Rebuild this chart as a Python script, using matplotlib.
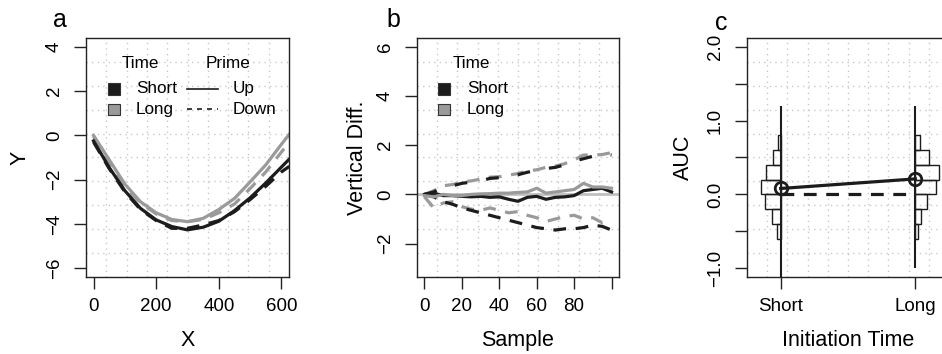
import matplotlib
matplotlib.use("Agg")
import matplotlib.pyplot as plt
from matplotlib.patches import Rectangle
from matplotlib.lines import Line2D
import numpy as np

plt.rcParams['font.family'] = ['Liberation Sans', 'DejaVu Sans']

# ---------------- data ----------------
# Panel a: mean trajectories
traj_x = [0, 50, 100, 150, 200, 250, 300, 350, 400, 450, 500, 550, 600, 625]
short_up = [-0.25, -1.45, -2.5, -3.3, -3.82, -4.12, -4.27, -4.15, -3.88, -3.4, -2.82, -2.15, -1.43, -1.07]
short_down = [-0.3, -1.5, -2.55, -3.35, -3.85, -4.2, -4.2, -4.05, -3.85, -3.45, -2.9, -2.3, -1.65, -1.4]
long_up = [0.0, -1.1, -2.2, -3.0, -3.5, -3.8, -3.9, -3.75, -3.35, -2.85, -2.1, -1.33, -0.4, 0.05]
long_down = [-0.05, -1.2, -2.3, -3.05, -3.55, -3.85, -3.9, -3.8, -3.5, -3.1, -2.4, -1.65, -0.75, -0.3]

# Panel b: vertical differences by sample
sample = [0, 5, 10, 15, 20, 25, 30, 35, 40, 45, 50, 55, 60, 65, 70, 75, 80, 85, 90, 95, 100]
short_mid = [0.0, 0.05, -0.05, -0.05, -0.08, -0.1, -0.08, -0.12, -0.1, -0.2, -0.28, -0.12, -0.08, -0.2, -0.12, -0.1, -0.05, 0.15, 0.2, 0.25, 0.1]
long_mid = [-0.05, -0.1, 0.0, -0.05, -0.05, 0.0, 0.02, 0.03, 0.05, 0.05, 0.08, 0.1, 0.25, 0.05, 0.1, 0.15, 0.2, 0.45, 0.3, 0.3, 0.25]
short_upper = [0.0, 0.1, 0.3, 0.35, 0.45, 0.5, 0.55, 0.65, 0.68, 0.75, 0.8, 0.9, 0.98, 1.05, 1.1, 1.2, 1.35, 1.45, 1.55, 1.65, 1.6]
long_upper = [0.0, 0.15, 0.35, 0.4, 0.5, 0.55, 0.62, 0.7, 0.72, 0.78, 0.85, 0.95, 1.0, 1.1, 1.15, 1.25, 1.4, 1.6, 1.6, 1.62, 1.7]
short_lower = [0.0, -0.1, -0.3, -0.4, -0.55, -0.65, -0.75, -0.85, -0.95, -1.05, -1.15, -1.25, -1.35, -1.4, -1.45, -1.4, -1.4, -1.35, -1.25, -1.3, -1.45]
long_lower = [-0.1, -0.55, -0.35, -0.3, -0.5, -0.6, -0.65, -0.55, -0.65, -0.75, -0.7, -0.85, -0.95, -1.1, -1.0, -0.9, -0.85, -1.0, -0.95, -1.15, -1.1]

# Panel c: AUC
groups = ["Short", "Long"]
auc_means = [0.08, 0.21]
auc_min = [-1.2, -1.0]
auc_max = [1.2, 1.2]
hist_edges = [-0.6, -0.4, -0.2, 0.0, 0.2, 0.4, 0.6, 0.8]
short_hist = [0.026, 0.067, 0.119, 0.148, 0.109, 0.056, 0.020]
long_hist = [0.019, 0.041, 0.085, 0.156, 0.178, 0.104, 0.037]

# ---------------- style ----------------
BLACK = '#1c1c1c'
GRAY = '#9a9a9a'
GRID = '#c8c8c8'
TICK_FS = 13.5
LAB_FS = 15.5
LEG_FS = 12.3
LW = 2.3

W, H = 942, 354
fig = plt.figure(figsize=(W / 100, H / 100), dpi=100)


def box(px_left, px_right, px_top=38, px_bottom=277):
    return [px_left / W, 1 - px_bottom / H, (px_right - px_left) / W, (px_bottom - px_top) / H]


def style_axes(ax):
    for s in ax.spines.values():
        s.set_linewidth(1.0)
        s.set_color('#222222')
    ax.tick_params(direction='out', length=8.6, width=1.0, labelsize=TICK_FS,
                   color='#222222')
    ax.tick_params(axis='x', pad=6.5)
    ax.tick_params(axis='y', labelrotation=90, pad=8)
    for lab in ax.get_yticklabels():
        lab.set_va('center')


def r_grid(ax):
    x0, x1 = ax.get_xlim()
    y0, y1 = ax.get_ylim()
    for i in range(1, 10):
        ax.axvline(x0 + i * (x1 - x0) / 10, color=GRID, lw=1, ls=(0, (1, 3)), zorder=0)
        ax.axhline(y0 + i * (y1 - y0) / 10, color=GRID, lw=1, ls=(0, (1, 3)), zorder=0)


# ---------------- panel a ----------------
axa = fig.add_axes(box(86, 289))
axa.set_xlim(-24, 624)
axa.set_ylim(-6.4, 4.4)
r_grid(axa)
axa.plot(traj_x, long_down, color=GRAY, lw=LW, ls=(0, (4, 3)))
axa.plot(traj_x, long_up, color=GRAY, lw=LW)
axa.plot(traj_x, short_down, color=BLACK, lw=LW, ls=(0, (4, 3)))
axa.plot(traj_x, short_up, color=BLACK, lw=LW)
axa.set_xticks([0, 200, 400, 600])
axa.set_yticks([-6, -4, -2, 0, 2, 4])
style_axes(axa)
axa.set_xlabel("X", fontsize=LAB_FS, va='center')
axa.set_ylabel("Y", fontsize=LAB_FS, va='center')
axa.xaxis.set_label_coords(0.5, -0.264)
axa.yaxis.set_label_coords(-0.325, 0.5)

# legend a
axa.text(0.266, 0.895, "Time", transform=axa.transAxes, ha='center', va='center', fontsize=LEG_FS)
axa.text(0.700, 0.895, "Prime", transform=axa.transAxes, ha='center', va='center', fontsize=LEG_FS)
for yy, col, lab in [(0.787, BLACK, "Short"), (0.701, GRAY, "Long")]:
    axa.add_patch(Rectangle((0.138 - 0.029, yy - 0.024), 0.058, 0.048, transform=axa.transAxes,
                            facecolor=col, edgecolor='#333333', lw=0.8))
    axa.text(0.246, yy, lab, transform=axa.transAxes, ha='left', va='center', fontsize=LEG_FS)
for yy, ls, lab in [(0.787, '-', "Up"), (0.701, (0, (3, 3)), "Down")]:
    axa.add_line(Line2D([0.496, 0.652], [yy, yy], transform=axa.transAxes, color=BLACK, lw=1.2, ls=ls))
    axa.text(0.724, yy, lab, transform=axa.transAxes, ha='left', va='center', fontsize=LEG_FS)

# ---------------- panel b ----------------
axb = fig.add_axes(box(417, 619))
axb.set_xlim(-4, 104)
axb.set_ylim(-3.36, 6.36)
r_grid(axb)
axb.axhline(0, color='#c0c0c0', lw=2, zorder=1)
axb.plot(sample, long_upper, color=GRAY, lw=LW, ls=(0, (4, 3)))
axb.plot(sample, long_lower, color=GRAY, lw=LW, ls=(0, (4, 3)))
axb.plot(sample, short_upper, color=BLACK, lw=LW, dashes=(4, 6))
axb.plot(sample, short_lower, color=BLACK, lw=LW, ls=(0, (4, 3)))
axb.plot(sample, short_mid, color=BLACK, lw=LW)
axb.plot(sample, long_mid, color=GRAY, lw=LW)
axb.set_xticks([0, 20, 40, 60, 80, 100])
axb.set_xticklabels(["0", "20", "40", "60", "80", ""])
axb.set_yticks([-2, 0, 2, 4, 6])
style_axes(axb)
axb.set_xlabel("Sample", fontsize=LAB_FS, va='center')
axb.set_ylabel("Vertical Diff.", fontsize=LAB_FS, va='center')
axb.xaxis.set_label_coords(0.5, -0.264)
axb.yaxis.set_label_coords(-0.297, 0.5)

axb.text(0.267, 0.895, "Time", transform=axb.transAxes, ha='center', va='center', fontsize=LEG_FS)
for yy, col, lab in [(0.787, BLACK, "Short"), (0.701, GRAY, "Long")]:
    axb.add_patch(Rectangle((0.134 - 0.029, yy - 0.024), 0.058, 0.048, transform=axb.transAxes,
                            facecolor=col, edgecolor='#333333', lw=0.8))
    axb.text(0.248, yy, lab, transform=axb.transAxes, ha='left', va='center', fontsize=LEG_FS)

# ---------------- panel c ----------------
axc = fig.add_axes(box(747, 949))
axc.set_xlim(0.75, 2.25)
axc.set_ylim(-1.12, 2.12)
r_grid(axc)
xpos = [1, 2]
centers = [(hist_edges[i] + hist_edges[i + 1]) / 2 for i in range(len(hist_edges) - 1)]
bw = hist_edges[1] - hist_edges[0]
axc.barh(centers, [-v for v in short_hist], left=xpos[0], height=bw, fill=False,
         edgecolor=BLACK, lw=1.0, zorder=2)
axc.barh(centers, long_hist, left=xpos[1], height=bw, fill=False,
         edgecolor=BLACK, lw=1.0, zorder=2)
axc.vlines(xpos, auc_min, auc_max, color=BLACK, lw=1.5, zorder=3)
axc.plot(xpos, [0, 0], color=BLACK, lw=LW, ls=(0, (4, 3)), zorder=3)
axc.plot(xpos, auc_means, color=BLACK, lw=LW, marker='o', mfc='none', mec=BLACK,
         ms=9, mew=2, zorder=4)
axc.set_xticks(xpos)
axc.set_xticklabels(groups)
axc.set_yticks([-1.0, -0.5, 0.0, 0.5, 1.0, 1.5, 2.0])
axc.set_yticklabels(["\u22121.0", "", "0.0", "", "1.0", "", "2.0"])
style_axes(axc)
axc.set_xlabel("Initiation Time", fontsize=LAB_FS, va='center')
axc.set_ylabel("AUC", fontsize=LAB_FS, va='center')
axc.xaxis.set_label_coords(0.5, -0.264)
axc.yaxis.set_label_coords(-0.317, 0.5)

# panel letters
fig.text(60 / W, 1 - 20 / H, "a", ha='center', va='center', fontsize=18)
fig.text(393 / W, 1 - 20 / H, "b", ha='center', va='center', fontsize=18)
fig.text(721 / W, 1 - 23 / H, "c", ha='center', va='center', fontsize=18)

fig.savefig("out.png", dpi=100)
